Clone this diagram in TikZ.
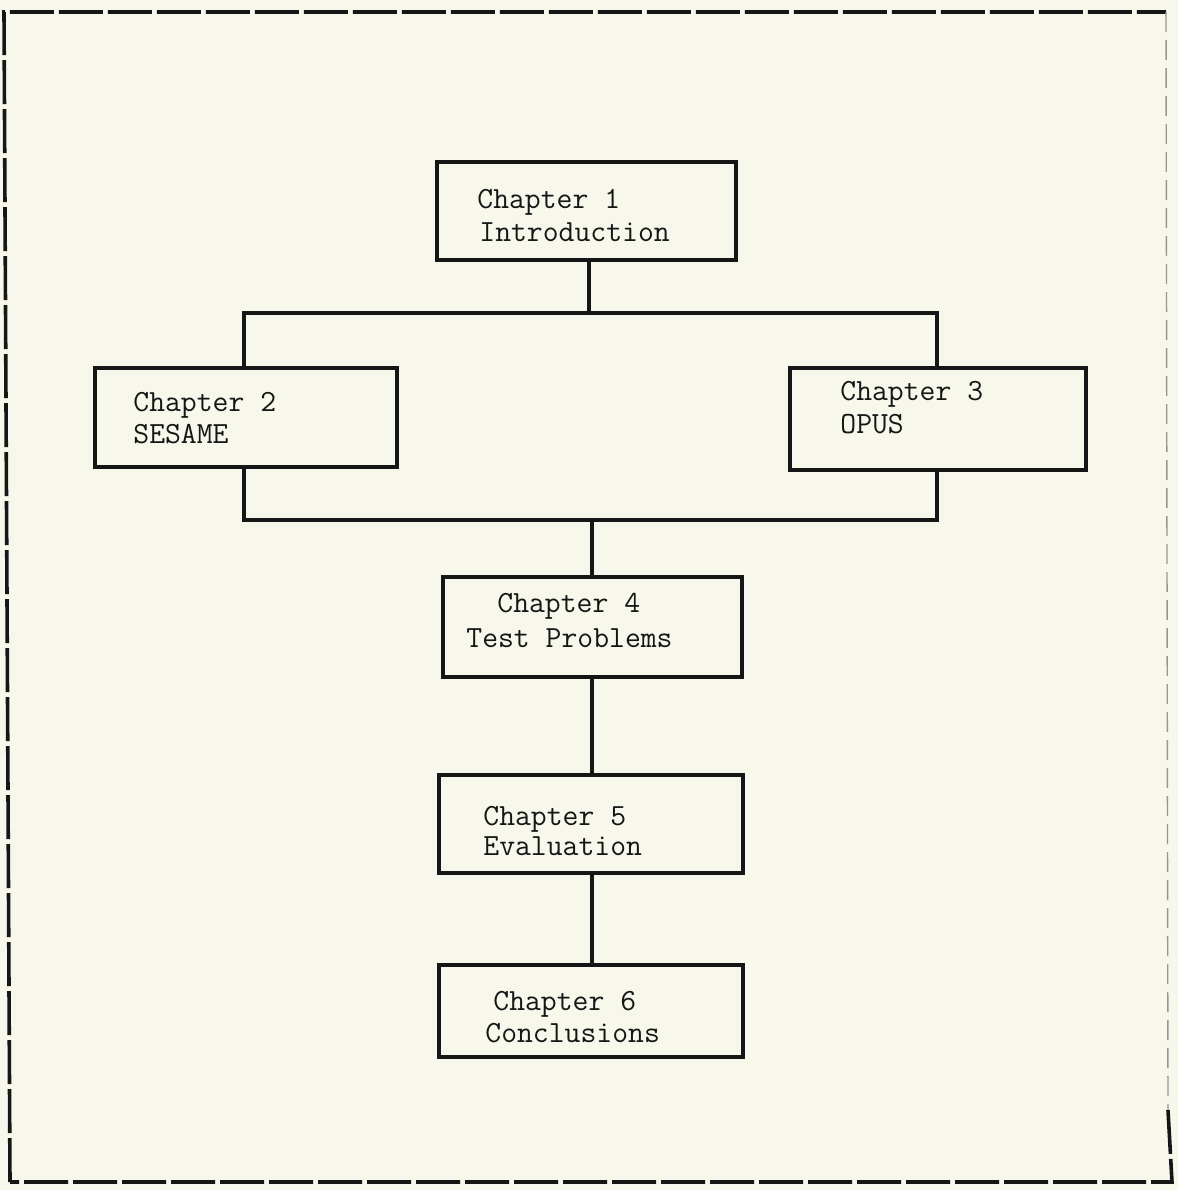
\documentclass[tikz,border=0pt]{standalone}
\usepackage{tikz}
\definecolor{paper}{RGB}{248,247,236}
\definecolor{ink}{RGB}{22,22,22}
\tikzset{
  box/.style={draw=ink, line width=1.8pt, fill=none, inner sep=0pt},
  txt/.style={inner sep=0pt, anchor=base west, text=ink,
    font=\ttfamily\fontsize{15.4}{16.5}\selectfont},
  conn/.style={draw=ink, line width=1.8pt},
  frame/.style={draw=ink, line width=1.8pt, dash pattern=on 22pt off 2.5pt},
  faintframe/.style={draw=ink!45, line width=0.7pt, dash pattern=on 10pt off 4pt}
}
\begin{document}
\begin{tikzpicture}[x=0.5pt, y=-0.5pt]
  \fill[paper] (0,0) rectangle (1178,1190);
  \useasboundingbox (0,0) rectangle (1178,1190);

  % outer frame
  \coordinate (fa) at (4,12);
  \coordinate (fb) at (1166,12);
  \coordinate (fc) at (1172,1182);
  \coordinate (fd) at (10,1182);
  \draw[frame] (fd) -- (fa) -- (fb);
  \draw[faintframe] (fb) -- (1168,1110);
  \draw[frame] (1168,1110) -- (fc) -- (fd);

  % boxes
  \node[box, minimum width=149.5pt, minimum height=49pt]  (c1) at (586.5,211) {};
  \node[box, minimum width=151pt,   minimum height=49.5pt] (c2) at (246,417.5) {};
  \node[box, minimum width=148pt,   minimum height=51pt]  (c3) at (938,419) {};
  \node[box, minimum width=149.5pt, minimum height=50pt]  (c4) at (592.5,627) {};
  \node[box, minimum width=152pt,   minimum height=49pt]  (c5) at (591,824) {};
  \node[box, minimum width=152pt,   minimum height=46pt]  (c6) at (591,1011) {};

  % texts
  \node[txt] (t1a) at (477,208) {Chapter 1};
  \node[txt] (t1b) at (479,241) {Introduction};
  \node[txt] (t2a) at (133,411) {Chapter 2};
  \node[txt] (t2b) at (133,443) {SESAME};
  \node[txt] (t3a) at (840,400) {Chapter 3};
  \node[txt] (t3b) at (840,433) {OPUS};
  \node[txt] (t4a) at (497,612) {Chapter 4};
  \node[txt] (t4b) at (466,647) {Test Problems};
  \node[txt] (t5a) at (483,825) {Chapter 5};
  \node[txt] (t5b) at (483,855) {Evaluation};
  \node[txt] (t6a) at (493,1010) {Chapter 6};
  \node[txt] (t6b) at (485,1042) {Conclusions};

  % bus coordinates
  \coordinate (bt) at (589,313);
  \coordinate (bb) at (592,520);

  % connectors
  \draw[conn] (c1.south -| bt) -- (bt);
  \draw[conn] (c2.north -| 244,0) -- (244,313) -- (937,313) -- (c3.north -| 937,0);
  \draw[conn] (c2.south -| 244,0) -- (244,520) -- (937,520) -- (c3.south -| 937,0);
  \draw[conn] (bb) -- (c4.north -| bb);
  \draw[conn] (c4.south -| bb) -- (c5.north -| bb);
  \draw[conn] (c5.south -| bb) -- (c6.north -| bb);
\end{tikzpicture}
\end{document}
